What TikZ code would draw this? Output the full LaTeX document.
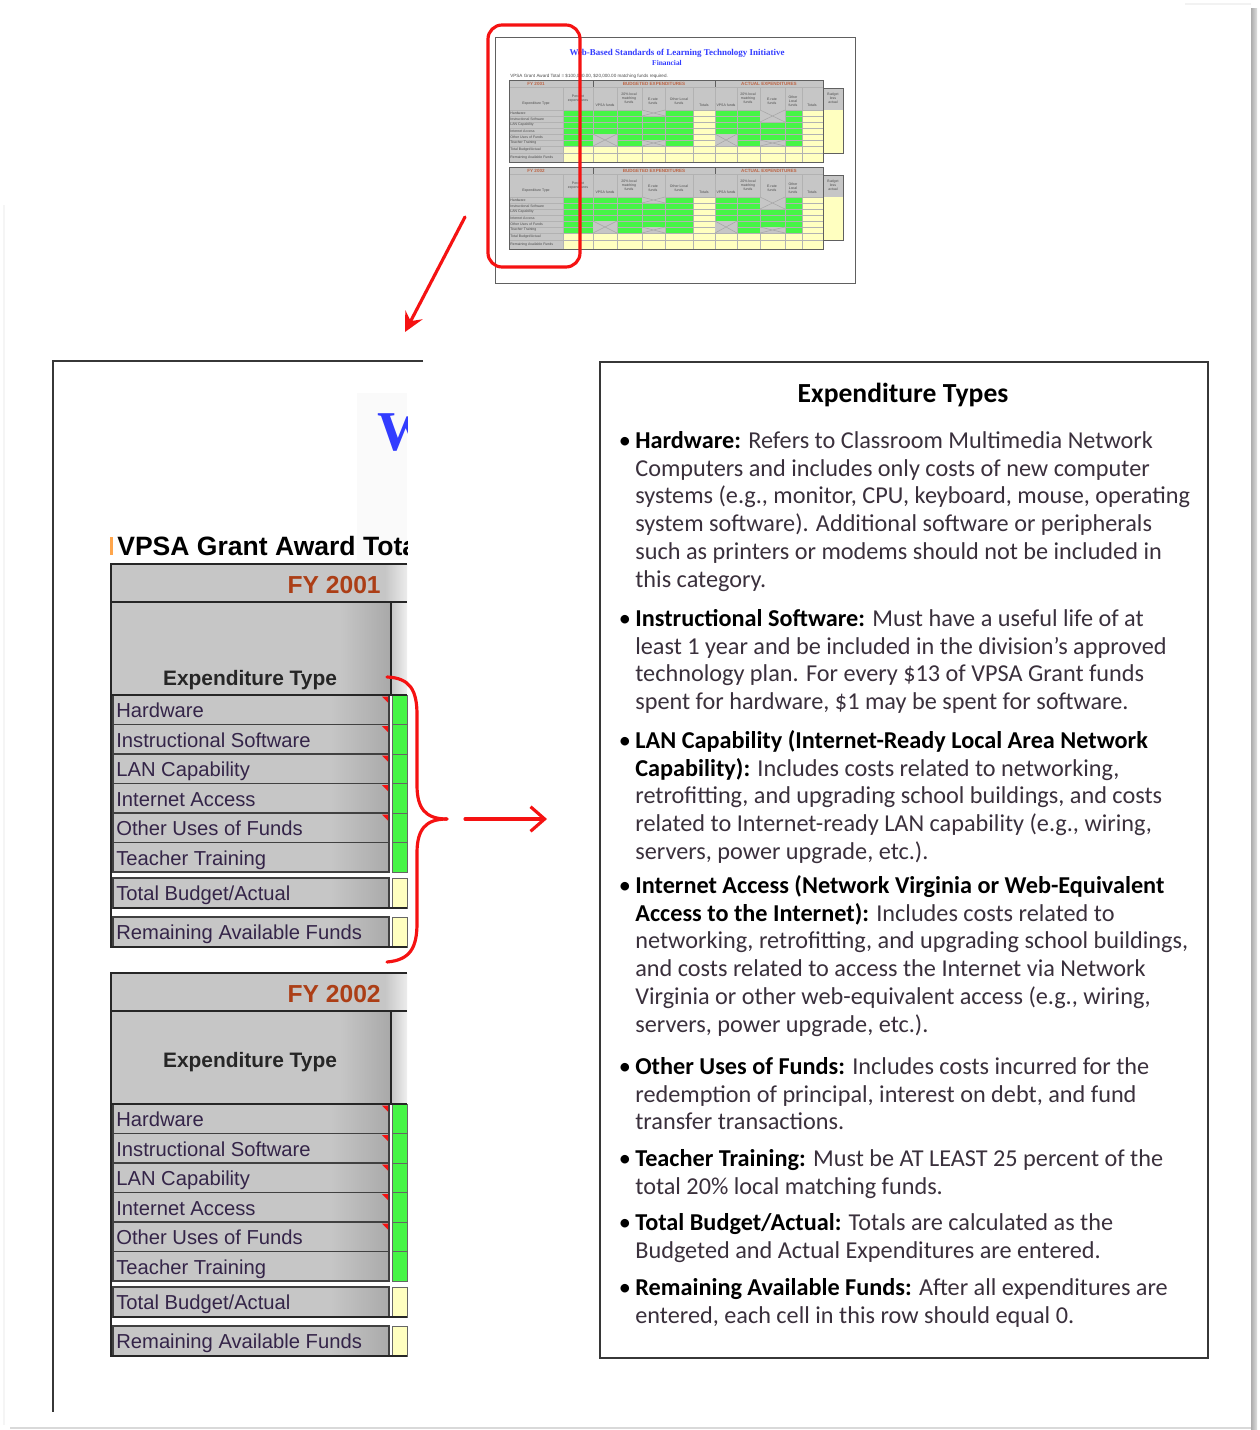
\documentclass[tikz,border=0pt]{standalone}
\usepackage{fontspec}
\setmainfont{Carlito}
\newfontfamily\arialfont{Liberation Sans}
\newfontfamily\timesfont{Liberation Serif}
\usetikzlibrary{arrows.meta}
\definecolor{cellgray}{RGB}{198,198,198}
\definecolor{cellgreen}{RGB}{70,245,70}
\definecolor{cellyellow}{RGB}{255,255,192}
\definecolor{fyred}{RGB}{172,62,22}
\definecolor{labelink}{RGB}{52,36,72}
\definecolor{bodyink}{RGB}{58,48,60}
\definecolor{titleblue}{RGB}{50,60,255}
\definecolor{markred}{RGB}{245,18,18}
\definecolor{framegray}{RGB}{55,55,55}
\tikzset{
    itemtext/.style={anchor=base west, inner sep=0pt, text=labelink,
    	font=\arialfont\fontsize{11.5}{13}\selectfont},
    headtext/.style={anchor=base, inner sep=0pt, text=black!85,
    	font=\arialfont\bfseries\fontsize{11.9}{13}\selectfont},
    fytext/.style={anchor=base east, inner sep=0pt, text=fyred,
    	font=\arialfont\bfseries\fontsize{14}{16}\selectfont},
    cellline/.style={draw=black!75, line width=0.9pt},
    tableframe/.style={draw=black!85, line width=1.6pt}
}
\tikzset{
    thumbline/.style={draw=gray!75!black, line width=0.4pt},
    thumbgrid/.style={draw=gray!60, line width=0.2pt},
    thumbtext/.style={inner sep=0pt, align=center, text=black!70,
    	font=\arialfont\fontsize{2}{2.3}\selectfont},
    thumbhead/.style={inner sep=0pt, text=fyred!80,
    	font=\arialfont\bfseries\fontsize{2.6}{3}\selectfont}
}
\tikzset{
    markline/.style={draw=markred, line width=1.8pt, line cap=round},
    markarrow/.style={markline, -{Stealth[length=11pt,width=11pt,inset=4pt]}},
    pointarrow/.style={markline, -{Straight Barb[length=8pt,width=14pt]}},
    infobox/.style={draw=framegray, line width=1.1pt, anchor=north west,
    	minimum width=12.16cm, minimum height=19.92cm, inner sep=0pt},
    typepara/.style={anchor=north west, inner sep=0pt, align=left, text=bodyink,
    	font=\fontsize{13.8}{15.8}\selectfont}
}
\newcommand{\typehead}[1]{\llap{\textcolor{black}{\textbullet}\hspace{2.5pt}}\rule{0pt}{11pt}\textcolor{black}{\textbf{#1}}}

\begin{document}
\begin{tikzpicture}[x=0.02cm, y=-0.02cm]
  \useasboundingbox (0,0) rectangle (1259,1430);
  \fill[white] (0,0) rectangle (1259,1430);
  % page edges
  \shade[left color=gray!65, right color=gray!25] (1251,8) rectangle (1257,1430);
  \draw[gray!30, line width=1pt] (10,1428) -- (1251,1428);
  \draw[gray!8, line width=1pt] (4,205) -- (4,1425);
  \draw[gray!10, line width=1pt] (1185,4) -- (1251,4);

  % thumbnail of the whole sheet
  \draw[thumbline] (495,37) rectangle (855,283);
  \node (thumbtitle) [inner sep=0pt, text=titleblue,
    font=\timesfont\bfseries\fontsize{5.1}{6}\selectfont] at (677,53)
    {Web-Based Standards of Learning Technology Initiative};
  \node (thumbsub) [inner sep=0pt, text=titleblue,
    font=\timesfont\bfseries\fontsize{4.2}{5}\selectfont] at (667,63) {Financial};
  \node (thumbnote) [thumbtext, anchor=west, font=\arialfont\fontsize{2.6}{3}\selectfont]
    at (510,76) {VPSA Grant Award Total = \$100,000.00, \$20,000.00 matching funds required.};
  \foreach \t/\dy/\yr in {1/0/2001, 2/87/2002} {
    \fill[cellgray] (509,80+\dy) rectangle (823,110+\dy);
    \fill[cellgray] (823,88+\dy) rectangle (843,110+\dy);
    \fill[cellgray] (509,110+\dy) rectangle (563,162+\dy);
    \fill[cellgreen] (563,110+\dy) rectangle (693,146+\dy);
    \fill[cellyellow] (693,110+\dy) rectangle (715,146+\dy);
    \fill[cellgreen] (715,110+\dy) rectangle (802,146+\dy);
    \fill[cellyellow] (802,110+\dy) rectangle (843,146+\dy);
    \fill[cellyellow] (563,146+\dy) rectangle (823,162+\dy);
    \fill[cellyellow] (823,146+\dy) rectangle (843,153+\dy);
    \foreach \cx in {563,593,617,642,665,693,715,737,760,785,802}
      \draw[thumbgrid] (\cx,87+\dy) -- (\cx,162+\dy);
    \foreach \ry in {87,110,116,122,128,134,140,146,153}
      \draw[thumbgrid] (509,\ry+\dy) -- (823,\ry+\dy);
    \foreach \ax/\ay/\bx/\by in {642/110/665/116, 593/134/617/146, 642/140/665/146,
        715/134/737/146, 760/110/785/122, 760/140/785/146} {
      \fill[gray!45] (\ax,\ay+\dy) rectangle (\bx,\by+\dy);
      \draw[gray!70, line width=0.3pt] (\ax,\ay+\dy) -- (\bx,\by+\dy)
        (\ax,\by+\dy) -- (\bx,\ay+\dy);
    }
    \draw[thumbline] (509,80+\dy) rectangle (823,162+\dy);
    \draw[thumbline] (823,88+\dy) rectangle (843,153+\dy);
    \draw[thumbline] (593,80+\dy) -- (593,87+\dy) (715,80+\dy) -- (715,87+\dy);
    \node (tfy\t) [thumbhead] at (536,83.5+\dy) {FY \yr};
    \node (tbud\t) [thumbhead] at (654,83.5+\dy) {BUDGETED EXPENDITURES};
    \node (tact\t) [thumbhead] at (769,83.5+\dy) {ACTUAL EXPENDITURES};
    \foreach \cx/\cy/\ct [count=\k] in {536/104/{Expenditure Type},
        578/99/{Percent\\expenditures}, 605/105/{VPSA funds},
        629/98/{20\% local\\matching\\funds}, 653/101/{E-rate\\funds},
        679/101/{Other Local\\funds}, 704/105/Totals, 726/105/{VPSA funds},
        748/98/{20\% local\\matching\\funds}, 772/101/{E-rate\\funds},
        793/101/{Other\\Local\\funds}, 812/105/Totals, 833/98/{Budget\\less\\actual}}
      \node (tcol\t-\k) [thumbtext] at (\cx,\cy+\dy) {\ct};
    \foreach \lab [count=\i from 0] in {Hardware, Instructional Software,
        LAN Capability, Internet Access, Other Uses of Funds, Teacher Training}
      \node (trow\t-\i) [thumbtext, anchor=west] at (510,113+6*\i+\dy) {\lab};
    \node (ttot\t) [thumbtext, anchor=west] at (510,149.5+\dy) {Total Budget/Actual};
    \node (trem\t) [thumbtext, anchor=west] at (510,157.5+\dy) {Remaining Available Funds};
  }
  \draw[markline, rounded corners=8pt] (488,25) rectangle (580,267);
  \coordinate (zoomfrom) at (465,217);
  \coordinate (zoomto) at (405,332);
  \draw[markarrow] (zoomfrom) -- (zoomto);

  % enlarged left part of the sheet
  \draw[draw=framegray, line width=1.1pt] (423,361) -- (53,361) -- (53,1412);
  \begin{scope}
    \clip (100,380) rectangle (407,570);
    \fill[gray!4] (357,393) rectangle (407,560);
    \node (bigw) [anchor=base west, inner sep=0pt, text=titleblue,
      font=\timesfont\bfseries\fontsize{32}{32}\selectfont] at (377,450) {W};
    \node (granttitle) [anchor=base west, inner sep=0pt,
      font=\arialfont\bfseries\fontsize{15.1}{16}\selectfont] at (117,555)
      {VPSA Grant Award Total};
  \end{scope}
  \fill[orange!70] (110,537) rectangle (113,555);

  \foreach \t/\dy/\yr/\hy in {1/0/2001/685, 2/409/2002/658} {
    \fill[cellgray] (111,564+\dy) rectangle (407,602+\dy);
    \shade[left color=cellgray, right color=gray!15] (385,564+\dy) rectangle (407,602+\dy);
    \node (fy\t) [fytext] at (381,593+\dy) {FY \yr};
    \fill[cellgray] (111,602+\dy) rectangle (391,695+\dy);
    \shade[left color=cellgray, right color=cellgray!85!black] (340,602+\dy) rectangle (391,695+\dy);
    \shade[left color=cellgray, right color=gray!12] (391,602+\dy) rectangle (407,695+\dy);
    \node (head\t) [headtext] at (250,\hy+\dy) {Expenditure Type};
    \foreach \lab [count=\i from 0] in {Hardware, Instructional Software,
        LAN Capability, Internet Access, Other Uses of Funds, Teacher Training} {
      \pgfmathsetmacro{\rt}{695+29.5*\i+\dy}
      \fill[cellgray] (113,\rt) rectangle (330,\rt+29.5);
      \shade[left color=cellgray, right color=cellgray!86!black] (330,\rt) rectangle (389,\rt+29.5);
      \draw[cellline] (113,\rt) rectangle (389,\rt+29.5);
      \filldraw[fill=cellgreen, draw=black!60, line width=0.4pt] (392,\rt) rectangle (407,\rt+29.5);
      \ifnum\i<5
        \fill[markred] (382,\rt+1.5) -- (388,\rt+1.5) -- (388,\rt+7.5) -- cycle;
      \fi
      \node (item\t-\i) [itemtext] at (116,\rt+22.5) {\lab};
    }
    \foreach \lab/\ra [count=\i from 6] in {{Total Budget/Actual}/878, {Remaining Available Funds}/917} {
      \fill[cellgray] (113,\ra+\dy) rectangle (330,\ra+30+\dy);
      \shade[left color=cellgray, right color=cellgray!86!black] (330,\ra+\dy) rectangle (389,\ra+30+\dy);
      \draw[cellline] (113,\ra+\dy) rectangle (389,\ra+30+\dy);
      \filldraw[fill=cellyellow, draw=black!60, line width=0.4pt] (392,\ra+\dy) rectangle (407,\ra+30+\dy);
      \node (item\t-\i) [itemtext] at (116,\ra+22.5+\dy) {\lab};
    }
    \draw[tableframe] (407,564+\dy) -- (111,564+\dy) -- (111,947+\dy) -- (407,947+\dy);
    \draw[tableframe] (111,602+\dy) -- (407,602+\dy);
    \draw[tableframe] (111,695+\dy) -- (407,695+\dy);
    \draw[tableframe] (391,602+\dy) -- (391,695+\dy);
    \draw[tableframe] (113,908+\dy) -- (407,908+\dy);
  }

  % brace and pointer to the notes
  \coordinate (bracetop) at (387,677);
  \coordinate (bracebot) at (387,962);
  \coordinate (bracetip) at (447,819);
  \draw[markline] (bracetop) .. controls (410,678) and (417,690) .. (417,715)
    -- (417,785) .. controls (417,808) and (425,819) .. (bracetip);
  \draw[markline] (bracebot) .. controls (410,960) and (417,948) .. (417,923)
    -- (417,853) .. controls (417,830) and (425,819) .. (bracetip);
  \coordinate (pointfrom) at (465,819);
  \coordinate (pointto) at (547,819);
  \draw[pointarrow] (pointfrom) -- (pointto);

  % notes box
  \node (typesbox) [infobox] at (599,361) {};
  \node (typestitle) [anchor=base, inner sep=0pt,
    font=\bfseries\fontsize{15.7}{18}\selectfont] at (903,402) {Expenditure Types};
  \node (hardware) [typepara] at (635,428.6) {\typehead{Hardware:}  Refers to Classroom Multimedia Network\\
    Computers and includes only costs of new computer\\
    systems (e.g.,  monitor, CPU, keyboard, mouse, operating\\
    system software).  Additional software or peripherals\\
    such as printers or modems should not be included in\\
    this category.};
  \node (software) [typepara] at (635,606.6) {\typehead{Instructional Software:} Must have a useful life of at\\
    least 1 year and be included in the division’s approved\\
    technology plan.  For every \$13 of VPSA Grant funds\\
    spent for hardware, \$1 may be spent for software.};
  \node (lan) [typepara] at (635,728.6) {\typehead{LAN Capability  (Internet-Ready Local Area Network}\\
    \textcolor{black}{\textbf{Capability):}}  Includes costs related to networking,\\
    retrofitting, and upgrading school buildings, and costs\\
    related to Internet-ready LAN capability (e.g., wiring,\\
    servers, power upgrade, etc.).};
  \node (internet) [typepara] at (635,873.6) {\typehead{Internet Access (Network Virginia  or Web-Equivalent}\\
    \textcolor{black}{\textbf{Access to the Internet):}} Includes costs related to\\
    networking, retrofitting, and upgrading school buildings,\\
    and costs related to access the Internet via Network\\
    Virginia or other web-equivalent access (e.g., wiring,\\
    servers, power upgrade, etc.).};
  \node (otheruses) [typepara] at (635,1054.6) {\typehead{Other Uses of Funds:} Includes costs incurred for the\\
    redemption of principal, interest on debt, and fund\\
    transfer transactions.};
  \node (training) [typepara] at (635,1146.6) {\typehead{Teacher Training:}  Must be AT LEAST 25 percent of the\\
    total 20\% local matching funds.};
  \node (totals) [typepara] at (635,1210.6) {\typehead{Total Budget/Actual:} Totals are calculated as the\\
    Budgeted and Actual Expenditures are entered.};
  \node (remaining) [typepara] at (635,1275.6) {\typehead{Remaining Available Funds:} After all expenditures are\\
    entered, each cell in this row should equal 0.};
\end{tikzpicture}
\end{document}
